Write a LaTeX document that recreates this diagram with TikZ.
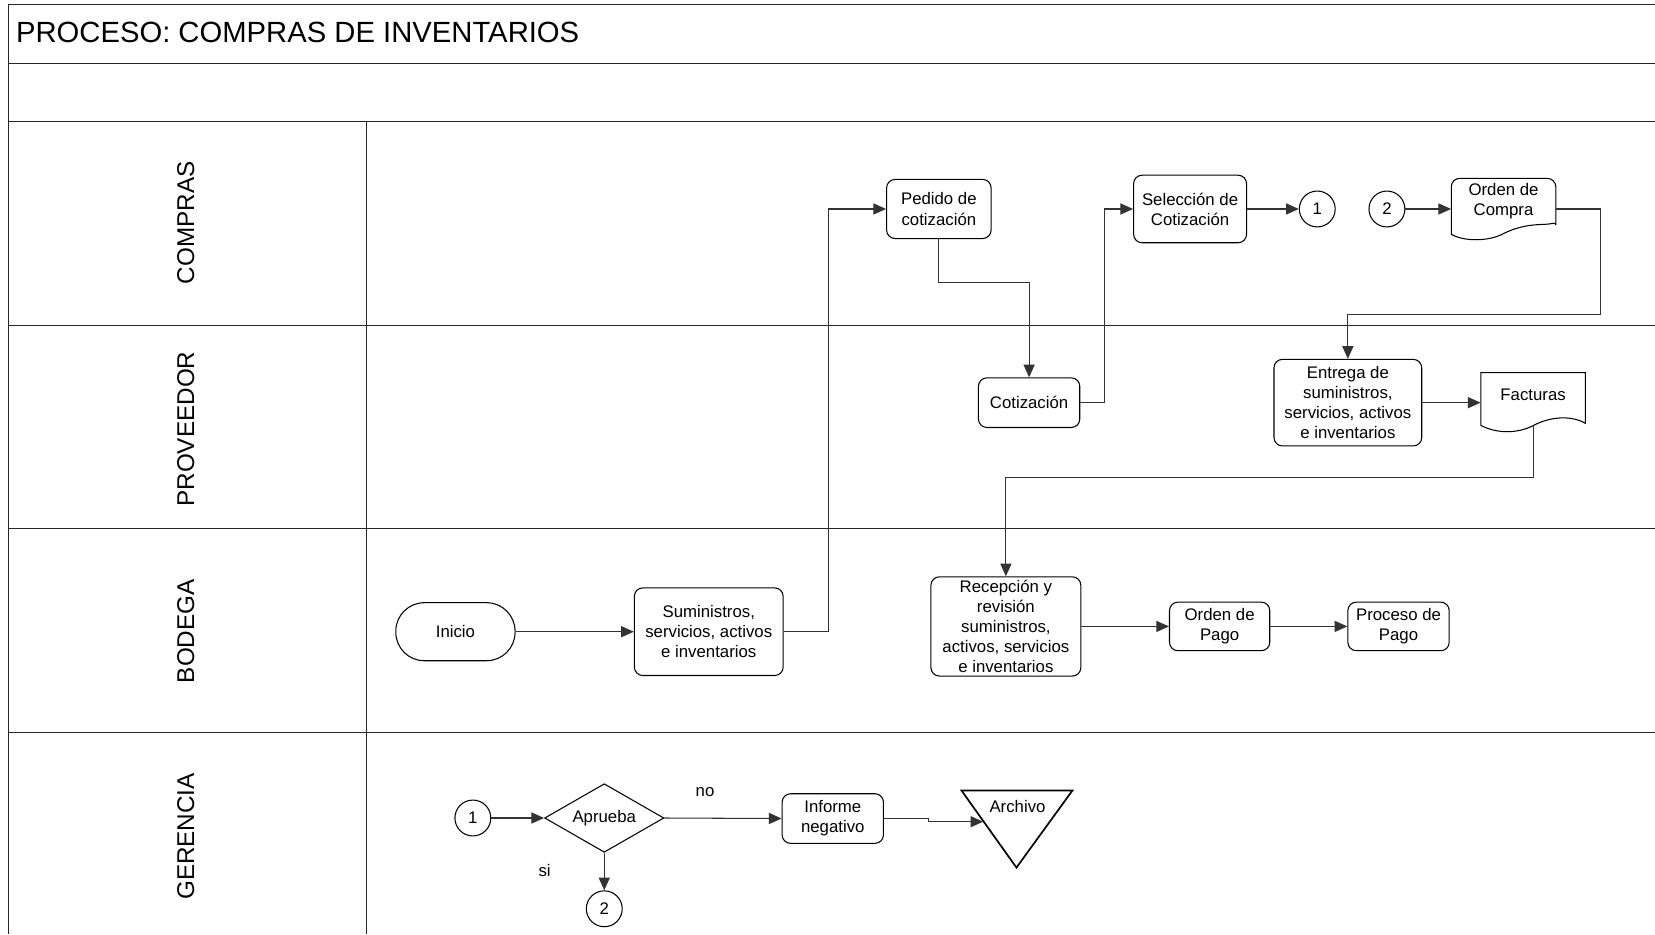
\documentclass[tikz,border=0pt]{standalone}
\usepackage{fontspec}
\setmainfont{Liberation Sans}
\usetikzlibrary{arrows.meta,shapes.geometric}
\newcommand\boxfont{\fontsize{15.9}{19}\selectfont}
\newcommand\titlefont{\fontsize{27.7}{32}\selectfont}
\newcommand\lanefont{\fontsize{23}{27}\selectfont}
\begin{document}
\begin{tikzpicture}[x=1pt,y=-1pt,
  frame/.style={line width=1.1pt, draw=black!85},
  proc/.style={draw, line width=1pt, rounded corners=8pt, align=center, font=\boxfont, inner sep=0pt},
  docshape/.style={line width=1pt, line cap=round, line join=round},
  conn/.style={draw, circle, line width=1pt, minimum size=34pt, inner sep=0pt, font=\boxfont},
  flow/.style={line width=1pt, draw=black!80, -{Triangle[length=12pt,width=10.5pt]}},
  lane/.style={rotate=90, font=\lanefont, inner sep=0pt},
  lbl/.style={font=\boxfont, inner sep=0pt, align=center}
]
\useasboundingbox (0,0) rectangle (1568,885);

% swimlane frame
\draw[frame] (1568,4) -- (8,4) -- (8,885);
\draw[frame] (8,60) -- (1568,60);
\draw[frame] (8,115) -- (1568,115);
\draw[frame] (8,308) -- (1568,308);
\draw[frame] (8,501) -- (1568,501);
\draw[frame] (8,694) -- (1568,694);
\draw[frame] (347,115) -- (347,885);

\node[anchor=west, font=\titlefont, inner sep=0pt] (title) at (15,31) {PROCESO: COMPRAS DE INVENTARIOS};
\node[lane] (lcompras) at (176,211) {COMPRAS};
\node[lane] (lproveedor) at (176,406.5) {PROVEEDOR};
\node[lane] (lbodega) at (176,598) {BODEGA};
\node[lane] (lgerencia) at (176,792.5) {GERENCIA};

% COMPRAS lane
\node[proc, minimum width=99pt, minimum height=56pt] (pedido) at (889.5,198) {Pedido de\\cotización};
\node[proc, minimum width=107pt, minimum height=64pt] (seleccion) at (1127.5,198) {Selección de\\Cotización};
\node[conn] (c1a) at (1248,198) {1};
\node[conn] (c2a) at (1314,198) {2};
\node[minimum width=99pt, minimum height=57pt, inner sep=0pt] (orden) at (1424.5,198) {};
\draw[docshape, rounded corners=8pt] (1375,222) -- (1375,169) -- (1474,169) -- (1474,205)
  [sharp corners] .. controls (1474,210) and (1470,212.5) .. (1464,212.5)
  .. controls (1450,213) and (1440,214) .. (1425,221)
  .. controls (1411,229) and (1387,229) .. (1375,222);
\node[lbl] (ordentxt) at (1424.5,191) {Orden de\\Compra};

% PROVEEDOR lane
\node[proc, minimum width=96pt, minimum height=47pt] (cotiz) at (975,381.5) {Cotización};
\node[proc, minimum width=140pt, minimum height=82pt] (entrega) at (1277,381.5) {Entrega de\\suministros,\\servicios, activos\\e inventarios};
\node[minimum width=99pt, minimum height=47pt, inner sep=0pt] (fact) at (1452.5,381.5) {};
\draw[docshape, line join=miter] (1403,403) -- (1403,353) -- (1502,353) -- (1502,401)
  .. controls (1488,393) and (1468,395) .. (1453,403)
  .. controls (1438,411) and (1418,411) .. (1403,403);
\node[lbl] (facttxt) at (1452.5,374) {Facturas};
\coordinate (factout) at (1453,403);

% BODEGA lane
\node[draw, line width=1pt, rounded corners=27pt, minimum width=113pt, minimum height=55pt, font=\boxfont, inner sep=0pt] (inicio) at (431.5,598.5) {Inicio};
\node[proc, minimum width=141pt, minimum height=83pt] (sumin) at (671.5,598.5) {Suministros,\\servicios, activos\\e inventarios};
\node[proc, minimum width=142pt, minimum height=94pt] (recep) at (953,593.5) {Recepción y\\revisión\\suministros,\\activos, servicios\\e inventarios};
\node[proc, minimum width=95pt, minimum height=46pt] (opago) at (1155.5,593.5) {Orden de\\Pago};
\node[proc, minimum width=96pt, minimum height=46pt] (ppago) at (1325,593.5) {Proceso de\\Pago};

% GERENCIA lane
\node[conn] (c1b) at (448,775) {1};
\node[diamond, draw, line width=1pt, aspect=1.74, minimum width=113pt, minimum height=65pt, inner sep=0pt, font=\boxfont] (aprueba) at (572.5,775) {Aprueba};
\node[proc, minimum width=96pt, minimum height=47pt] (informe) at (789,775.5) {Informe\\negativo};
\draw[line width=1.6pt, line join=miter] (911,749) -- (1016,749) -- (963,822) -- cycle;
\node[lbl] (archivo) at (964,764) {Archivo};
\coordinate (archin) at (931.5,778.5);
\node[conn] (c2b) at (572.5,861) {2};
\node[lbl] (lno) at (668,750) {no};
\node[lbl] (lsi) at (516,825) {si};

% flow
\draw[flow] (inicio.east) -- (sumin.west);
\draw[flow] (sumin.east) -- ++(42,0) |- (pedido.west);
\draw[flow] (pedido.south) -- ++(0,41) -| (cotiz.north);
\draw[flow] (cotiz.east) -- ++(23,0) |- (seleccion.west);
\draw[flow] (seleccion.east) -- (c1a.west);
\draw[flow] (c2a.east) -- (orden.west);
\draw[flow] (orden.east) -- ++(42,0) -- ++(0,100) -| (entrega.north);
\draw[flow] (entrega.east) -- (fact.west);
\draw[flow] (factout) -- ++(0,49) -| (recep.north);
\draw[flow] (recep.east) -- (opago.west);
\draw[flow] (opago.east) -- (ppago.west);
\draw[flow] (c1b.east) -- (aprueba.west);
\draw[flow] (aprueba.east) -- (informe.west);
\draw[flow] (informe.east) -- ++(42,0) -- ++(0,3) -- (archin);
\draw[flow] (aprueba.south) -- (c2b.north);
\end{tikzpicture}
\end{document}
